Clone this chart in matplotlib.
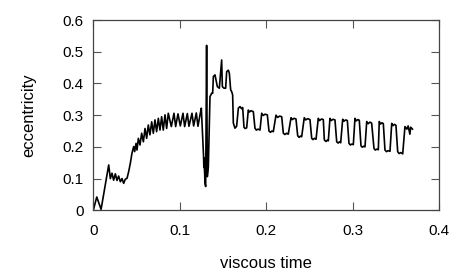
import matplotlib
matplotlib.use("Agg")
import matplotlib.pyplot as plt

plt.rcParams['font.family'] = ['Liberation Sans', 'DejaVu Sans']

# early growth, 0 - 0.05
t_early = [0.0, 0.004, 0.009, 0.0178, 0.0197, 0.0216, 0.0235, 0.0255, 0.0274,
           0.0293, 0.0313, 0.0332, 0.0351, 0.037, 0.039, 0.0409, 0.0428,
           0.0447, 0.0467, 0.0478, 0.0494, 0.0505]
e_early = [0.0, 0.042, 0.003, 0.143, 0.100, 0.117, 0.095, 0.115, 0.094,
           0.108, 0.090, 0.100, 0.085, 0.098, 0.101, 0.122, 0.148,
           0.180, 0.201, 0.185, 0.211, 0.190]

# fast oscillation, 0.05 - 0.125
t_osc = [0.0521, 0.054, 0.0559, 0.0579, 0.0598, 0.0617, 0.0636, 0.0655,
         0.0675, 0.0694, 0.0713, 0.0732, 0.0752, 0.0771, 0.079, 0.0809,
         0.0829, 0.0848, 0.0867, 0.0902, 0.0933, 0.0952, 0.0979, 0.1006,
         0.1037, 0.1056, 0.1087, 0.1106, 0.1141, 0.1160, 0.1191, 0.1210,
         0.1237, 0.1249]
e_osc = [0.227, 0.206, 0.243, 0.216, 0.258, 0.227, 0.269, 0.238,
         0.279, 0.243, 0.285, 0.248, 0.290, 0.253, 0.295, 0.253,
         0.301, 0.258, 0.306, 0.264, 0.306, 0.264, 0.304, 0.266,
         0.306, 0.264, 0.305, 0.265, 0.306, 0.266, 0.307, 0.265,
         0.306, 0.322]

# disruption, 0.125 - 0.17
t_burst = [0.1272, 0.1275, 0.1278, 0.1281, 0.1285, 0.1292, 0.1299, 0.1310,
           0.1318, 0.1330, 0.1349, 0.1368, 0.1380, 0.1388, 0.1407, 0.1419,
           0.1434, 0.1457, 0.1484, 0.1492, 0.1511, 0.1530, 0.1542, 0.1561,
           0.1573, 0.1588, 0.1600, 0.1611, 0.1619, 0.1638, 0.1657, 0.1677,
           0.1696, 0.1715, 0.1727]
e_burst = [0.180, 0.169, 0.135, 0.165, 0.132, 0.085, 0.075, 0.520,
           0.106, 0.137, 0.358, 0.369, 0.369, 0.422, 0.427, 0.411,
           0.390, 0.385, 0.474, 0.390, 0.385, 0.385, 0.437, 0.442,
           0.432, 0.380, 0.374, 0.364, 0.275, 0.259, 0.265, 0.322,
           0.327, 0.320, 0.324]

# square-wave stage, 0.17 - 0.37
t_sq = [0.1742, 0.1755, 0.1773, 0.1792, 0.1805, 0.1825, 0.185,
        0.1869, 0.1885, 0.1905, 0.1927, 0.1947, 0.1965, 0.1985, 0.2012,
        0.2031, 0.2048, 0.2065, 0.2081, 0.2112, 0.2130, 0.2155, 0.2178,
        0.2197, 0.2215, 0.2235, 0.2254, 0.2286, 0.2300, 0.2320, 0.2343,
        0.2363, 0.2380, 0.2395, 0.2409, 0.2439, 0.2455, 0.2480, 0.2505,
        0.2525, 0.2540, 0.2558, 0.2575, 0.2601, 0.2615, 0.2640, 0.2659,
        0.2671, 0.2690, 0.2705, 0.2717, 0.2736, 0.2750, 0.2772, 0.2794,
        0.2814, 0.2830, 0.2845, 0.2860, 0.2883, 0.2898, 0.2918, 0.2937,
        0.2956, 0.2972, 0.2990, 0.3006, 0.3025, 0.3040, 0.3058, 0.3075,
        0.3095, 0.3110, 0.3125, 0.3141, 0.3161, 0.3178, 0.3198, 0.3218,
        0.3245, 0.3260, 0.3278, 0.3295, 0.3306, 0.3320, 0.3338, 0.3353,
        0.3372, 0.3390, 0.3410, 0.3430, 0.3450, 0.3465, 0.3482, 0.3499,
        0.3519, 0.3535, 0.3555, 0.3577, 0.3603, 0.3625, 0.3640, 0.3660,
        0.3669, 0.3690]
e_sq = [0.262, 0.258, 0.260, 0.316, 0.310, 0.314, 0.311,
        0.259, 0.253, 0.256, 0.253, 0.306, 0.299, 0.303, 0.301,
        0.250, 0.246, 0.250, 0.248, 0.300, 0.293, 0.297, 0.295,
        0.243, 0.239, 0.243, 0.240, 0.292, 0.286, 0.290, 0.288,
        0.235, 0.230, 0.234, 0.232, 0.292, 0.285, 0.289, 0.286,
        0.227, 0.223, 0.227, 0.224, 0.290, 0.283, 0.288, 0.286,
        0.222, 0.217, 0.221, 0.219, 0.290, 0.283, 0.287, 0.285,
        0.216, 0.212, 0.216, 0.213, 0.287, 0.281, 0.285, 0.283,
        0.211, 0.206, 0.209, 0.207, 0.290, 0.282, 0.286, 0.284,
        0.203, 0.199, 0.202, 0.200, 0.280, 0.273, 0.278, 0.275,
        0.195, 0.190, 0.193, 0.191, 0.280, 0.272, 0.276, 0.273,
        0.190, 0.185, 0.188, 0.186, 0.274, 0.267, 0.271, 0.268,
        0.185, 0.179, 0.182, 0.178, 0.264, 0.256, 0.266, 0.240,
        0.262, 0.256]

time = t_early + t_osc + t_burst + t_sq
ecc = e_early + e_osc + e_burst + e_sq

x_ticks = [0, 0.1, 0.2, 0.3, 0.4]
x_labels = ['0', '0.1', '0.2', '0.3', '0.4']
y_ticks = [0, 0.1, 0.2, 0.3, 0.4, 0.5, 0.6]
y_labels = ['0', '0.1', '0.2', '0.3', '0.4', '0.5', '0.6']


def main():
    fig = plt.figure(figsize=(4.63, 2.78), dpi=100)
    ax = fig.add_axes([0.2015, 0.2435, 0.7473, 0.6845])

    ax.plot(time, ecc, color='black', lw=1.2)

    ax.set_xlim(0, 0.4)
    ax.set_ylim(0, 0.6)
    ax.set_xticks(x_ticks, x_labels)
    ax.set_yticks(y_ticks, y_labels)
    ax.tick_params(direction='in', top=True, right=True, length=6,
                   color='#555555', labelsize=11)
    ax.tick_params(axis='x', pad=10)
    ax.tick_params(axis='y', pad=7)
    for s in ax.spines.values():
        s.set_color('#444444')
        s.set_linewidth(0.9)

    ax.set_xlabel('viscous time', fontsize=12, labelpad=13)
    ax.set_ylabel('eccentricity', fontsize=12, labelpad=19)

    fig.savefig('out.png', dpi=100)


if __name__ == "__main__":
    main()
